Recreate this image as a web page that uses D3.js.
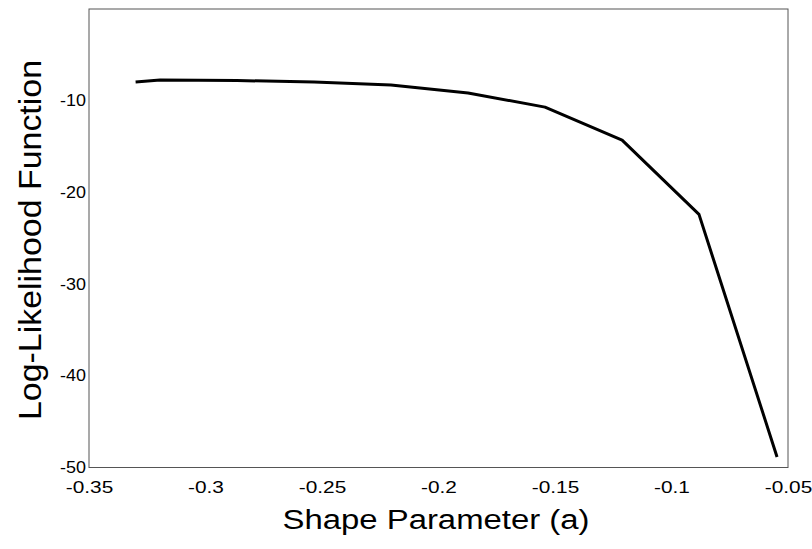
<!DOCTYPE html>
<html>
<head>
<meta charset="utf-8">
<script src="https://cdn.jsdelivr.net/npm/d3@7"></script>
<style>
  body { margin: 0; background: #fff; }
  text { font-family: Arial, "Liberation Sans", sans-serif; fill: #000; }
</style>
</head>
<body>
<script>
// data
const shapeParam = [-0.33, -0.3195, -0.2865, -0.2534, -0.2204, -0.1873, -0.1543, -0.1212, -0.0882, -0.0547]
const logLik = [-7.96, -7.74, -7.8, -7.96, -8.28, -9.16, -10.7, -14.3, -22.4, -48.85]
const xTicks = [-0.35, -0.3, -0.25, -0.2, -0.15, -0.1, -0.05]
const yTicks = [-10, -20, -30, -40, -50]

const width = 812, height = 549
const plot = { left: 89, right: 788, top: 9, bottom: 467.5 }

const svg = d3.select("body").append("svg")
    .attr("width", width)
    .attr("height", height)

const x = d3.scaleLinear().domain([-0.35, -0.05]).range([plot.left, plot.right])
const y = d3.scaleLinear().domain([-50, 0]).range([plot.bottom, plot.top])

// plain hyphen like the original, not d3's unicode minus
const fmt = d => String(+d.toFixed(2))

// frame
svg.append("rect")
    .attr("x", plot.left)
    .attr("y", plot.top)
    .attr("width", plot.right - plot.left)
    .attr("height", plot.bottom - plot.top)
    .attr("fill", "none")
    .attr("stroke", "#555")
    .attr("stroke-width", 1)

// x axis labels (no tick marks in the original)
const xAxis = d3.axisBottom(x).tickValues(xTicks).tickSize(0).tickPadding(14).tickFormat(fmt)
svg.append("g")
    .attr("transform", `translate(0,${plot.bottom})`)
    .call(xAxis)
    .call(g => g.select(".domain").remove())
    .selectAll("text")
    .attr("font-size", 16)
    .attr("font-family", "Arial, 'Liberation Sans', sans-serif")
    .each(function () {
        // the scanned labels are stretched sideways
        const w = this.getComputedTextLength()
        d3.select(this).attr("textLength", w * 1.3).attr("lengthAdjust", "spacingAndGlyphs")
    })

const yAxis = d3.axisLeft(y).tickValues(yTicks).tickSize(0).tickPadding(3).tickFormat(fmt)
svg.append("g")
    .attr("transform", `translate(${plot.left},0)`)
    .call(yAxis)
    .call(g => g.select(".domain").remove())
    .selectAll("text")
    .attr("font-size", 16)
    .attr("font-family", "Arial, 'Liberation Sans', sans-serif")
    .each(function () {
        const w = this.getComputedTextLength()
        d3.select(this).attr("textLength", w * 1.12).attr("lengthAdjust", "spacingAndGlyphs")
    })

// curve
const line = d3.line()
    .x((d, i) => x(shapeParam[i]))
    .y(d => y(d))

svg.append("path")
    .datum(logLik)
    .attr("d", line)
    .attr("fill", "none")
    .attr("stroke", "#000")
    .attr("stroke-width", 3)
    .attr("stroke-linejoin", "round")

// axis titles
svg.append("text")
    .attr("x", 436)
    .attr("y", 529)
    .attr("text-anchor", "middle")
    .attr("font-size", 27)
    .attr("textLength", 307)
    .attr("lengthAdjust", "spacingAndGlyphs")
    .text("Shape Parameter (a)")

svg.append("text")
    .attr("transform", "translate(41,240) rotate(-90)")
    .attr("text-anchor", "middle")
    .attr("font-size", 32)
    .attr("textLength", 360)
    .attr("lengthAdjust", "spacingAndGlyphs")
    .text("Log-Likelihood Function")
</script>
</body>
</html>
